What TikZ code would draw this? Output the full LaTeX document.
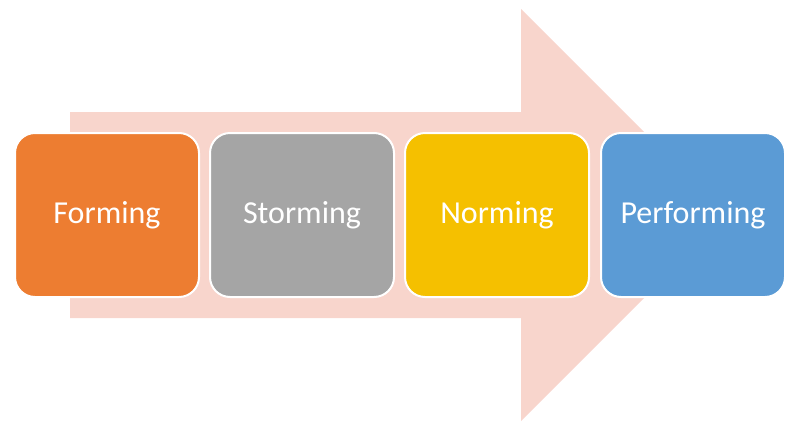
\documentclass[tikz,border=0pt]{standalone}
\usepackage{fontspec}
\setmainfont{Carlito}
\definecolor{arrowpink}{HTML}{F8D5CC}
\definecolor{formorange}{HTML}{ED7D31}
\definecolor{stormgray}{HTML}{A5A5A5}
\definecolor{normyellow}{HTML}{F5C000}
\definecolor{perfblue}{HTML}{5B9BD5}
\begin{document}
\begin{tikzpicture}[x=1pt,y=-1pt]
\tikzstyle{stage}=[draw=white,line width=2pt,rounded corners=20pt,minimum width=184pt,minimum height=164pt,inner sep=0pt,text=white,font=\fontsize{32}{38}\selectfont]
\useasboundingbox (0,0) rectangle (800,434);
\fill [arrowpink] (70,112) -- (521,112) -- (521,9) -- (727,215) -- (521,421) -- (521,318) -- (70,318) -- cycle;
\node [stage,fill=formorange] (forming) at (107,215) {Forming};
\node [stage,fill=stormgray] (storming) at (302,215) {Storming};
\node [stage,fill=normyellow] (norming) at (497,215) {Norming};
\node [stage,fill=perfblue] (performing) at (693,215) {Performing};
\end{tikzpicture}
\end{document}
